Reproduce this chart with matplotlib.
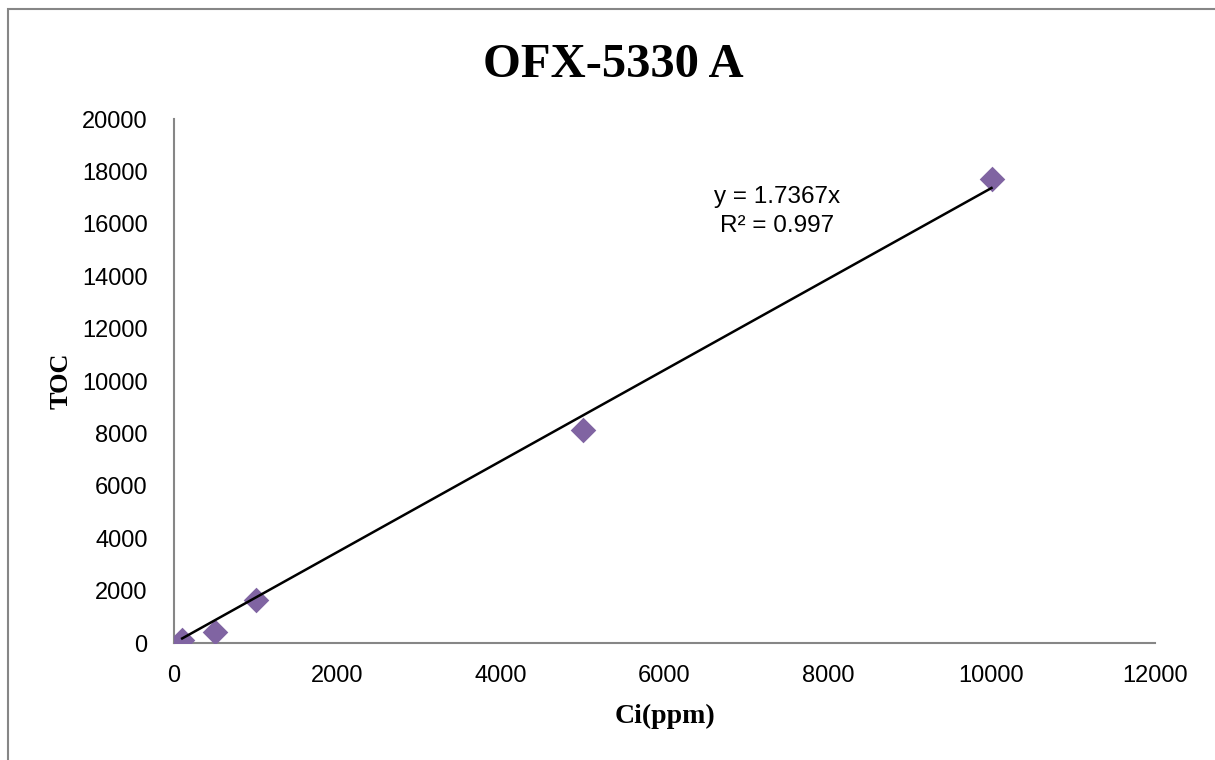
import numpy as np
import matplotlib.pyplot as plt
from matplotlib.patches import Rectangle

# ================= dados =================
ci_ppm = [100, 500, 1000, 5000, 10000]
toc = [120, 420, 1640, 8130, 17710]
slope = 1.7367
r2 = 0.997

x_ticks = [0, 2000, 4000, 6000, 8000, 10000, 12000]
y_ticks = [0, 2000, 4000, 6000, 8000, 10000, 12000, 14000, 16000, 18000, 20000]

# ================= figura =================
fig = plt.figure(figsize=(12.15, 7.6), dpi=100)
ax = fig.add_axes([174/1215, 1-643/760, (1155-174)/1215, (643-119)/760])

# moldura cinza do grafico (cortada a direita e embaixo)
fig.patches.append(Rectangle((8/1215, -0.1), 1.2, 1.1 - 9/760, transform=fig.transFigure,
                             fill=False, edgecolor='#868686', linewidth=1.5))

ax.scatter(ci_ppm, toc, marker='D', s=170, color='#8064A2', zorder=3, linewidths=0)

xl = np.array([min(ci_ppm), max(ci_ppm)])
ax.plot(xl, slope*xl, color='black', linewidth=1.8, zorder=4)

ax.set_xlim(0, 12000)
ax.set_ylim(0, 20000)
ax.set_xticks(x_ticks)
ax.set_yticks(y_ticks)
ax.tick_params(length=0, labelsize=17)
ax.tick_params(axis='y', pad=19)
ax.tick_params(axis='x', pad=16)
for lab in ax.get_xticklabels() + ax.get_yticklabels():
    lab.set_family('Liberation Sans')

for s in ['top', 'right']:
    ax.spines[s].set_visible(False)
for s in ['left', 'bottom']:
    ax.spines[s].set_color('#868686')
    ax.spines[s].set_linewidth(1.5)

ax.set_xlabel('Ci(ppm)', family='Liberation Serif', fontweight='bold', fontsize=20, labelpad=12)
ax.set_ylabel('TOC', family='Liberation Serif', fontweight='bold', fontsize=19, labelpad=7)
fig.text(613/1215, 1-65/760, 'OFX-5330 A', family='Liberation Serif', fontweight='bold',
         fontsize=35, ha='center', va='center')

ax.text(7380, 16470, 'y = 1.7367x\nR² = 0.997', family='Liberation Sans', fontsize=17.5,
        ha='center', va='center', linespacing=1.4)

fig.savefig('out.png', dpi=100)
